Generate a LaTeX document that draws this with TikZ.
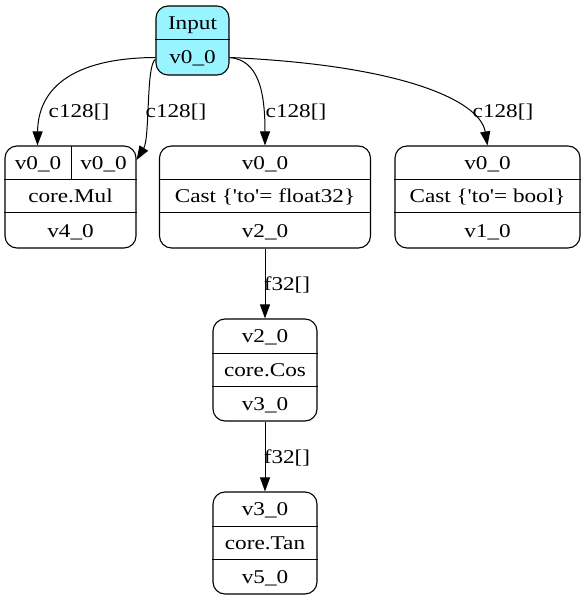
\documentclass[tikz,border=0pt]{standalone}
\usepackage{fontspec}
\setmainfont{Liberation Serif}[FakeStretch=1.19, Ligatures=TeXOff]
\usetikzlibrary{arrows.meta,calc}
\definecolor{incyan}{HTML}{98F5FF}
\begin{document}
\begin{tikzpicture}[x=1pt,y=-1pt,
  box/.style={draw, rounded corners=12pt, line width=1.1pt, inner sep=0pt, fill=white},
  txt/.style={font=\fontsize{19.5}{23}\selectfont, inner sep=0pt, text height=13pt, text depth=0pt},
  divider/.style={line width=1pt},
  edge/.style={-{Triangle[length=14pt,width=10pt]}, line width=1pt}]
\useasboundingbox (0,0) rectangle (586,601);

% Input
\node[box, fill=incyan, minimum width=73pt, minimum height=69pt] (in) at (192.5,40.5) {};
\draw[divider] (in.west |- 0,40) -- (in.east |- 0,40);
\node[txt] (inA) at (192.5,23) {Input};
\node[txt] (inB) at (192.5,57.5) {v0\_0};

% Mul
\node[box, minimum width=131pt, minimum height=102pt] (mul) at (70.5,197) {};
\draw[divider] (mul.west |- 0,179.5) -- (mul.east |- 0,179.5);
\draw[divider] (mul.west |- 0,212.5) -- (mul.east |- 0,212.5);
\draw[divider] (71,146) -- (71,179.5);
\node[txt] (mulA) at (38,163) {v0\_0};
\node[txt] (mulB) at (103.5,163) {v0\_0};
\node[txt] (mulC) at (70.5,196) {core.Mul};
\node[txt] (mulD) at (70.5,230.5) {v4\_0};

% Cast float32
\node[box, minimum width=211pt, minimum height=102pt] (cf) at (265,197) {};
\draw[divider] (cf.west |- 0,179.5) -- (cf.east |- 0,179.5);
\draw[divider] (cf.west |- 0,212.5) -- (cf.east |- 0,212.5);
\node[txt] (cfA) at (265,163) {v0\_0};
\node[txt] (cfB) at (265,196) {Cast \{'to'= float32\}};
\node[txt] (cfC) at (265,230.5) {v2\_0};

% Cast bool
\node[box, minimum width=185pt, minimum height=102pt] (cb) at (487.5,197) {};
\draw[divider] (cb.west |- 0,179.5) -- (cb.east |- 0,179.5);
\draw[divider] (cb.west |- 0,212.5) -- (cb.east |- 0,212.5);
\node[txt] (cbA) at (487.5,163) {v0\_0};
\node[txt] (cbB) at (487.5,196) {Cast \{'to'= bool\}};
\node[txt] (cbC) at (487.5,230.5) {v1\_0};

% Cos
\node[box, minimum width=104pt, minimum height=102pt] (cos) at (265,370) {};
\draw[divider] (cos.west |- 0,353) -- (cos.east |- 0,353);
\draw[divider] (cos.west |- 0,386) -- (cos.east |- 0,386);
\node[txt] (cosA) at (265,336) {v2\_0};
\node[txt] (cosB) at (265,369.5) {core.Cos};
\node[txt] (cosC) at (265,403.5) {v3\_0};

% Tan
\node[box, minimum width=104pt, minimum height=102pt] (tan) at (265,543) {};
\draw[divider] (tan.west |- 0,526) -- (tan.east |- 0,526);
\draw[divider] (tan.west |- 0,559) -- (tan.east |- 0,559);
\node[txt] (tanA) at (265,509) {v3\_0};
\node[txt] (tanB) at (265,542.5) {core.Tan};
\node[txt] (tanC) at (265,576.5) {v5\_0};

% edges
\draw[edge] ($(in.west)+(0,17)$) .. controls (70,58) and (38,90) .. ($(mul.north west)+(33,0)$);
\draw[edge] ($(in.west)+(0,19)$) .. controls (146,64) and (150,138) .. ($(mul.east)+(0,-37)$);
\draw[edge] ($(in.east)+(0,17)$) .. controls (258,60) and (265,90) .. (cf.north);
\draw[edge] ($(in.east)+(0,17)$) .. controls (400,65) and (480,100) .. (cb.north);
\draw[edge] (cf.south) -- (cos.north);
\draw[edge] (cos.south) -- (tan.north);

% labels
\node[txt] (l1) at (79,111) {c128[]};
\node[txt] (l2) at (176,111) {c128[]};
\node[txt] (l3) at (296,111) {c128[]};
\node[txt] (l4) at (503,111) {c128[]};
\node[txt] (l5) at (287,284) {f32[]};
\node[txt] (l6) at (287,457) {f32[]};
\end{tikzpicture}
\end{document}
